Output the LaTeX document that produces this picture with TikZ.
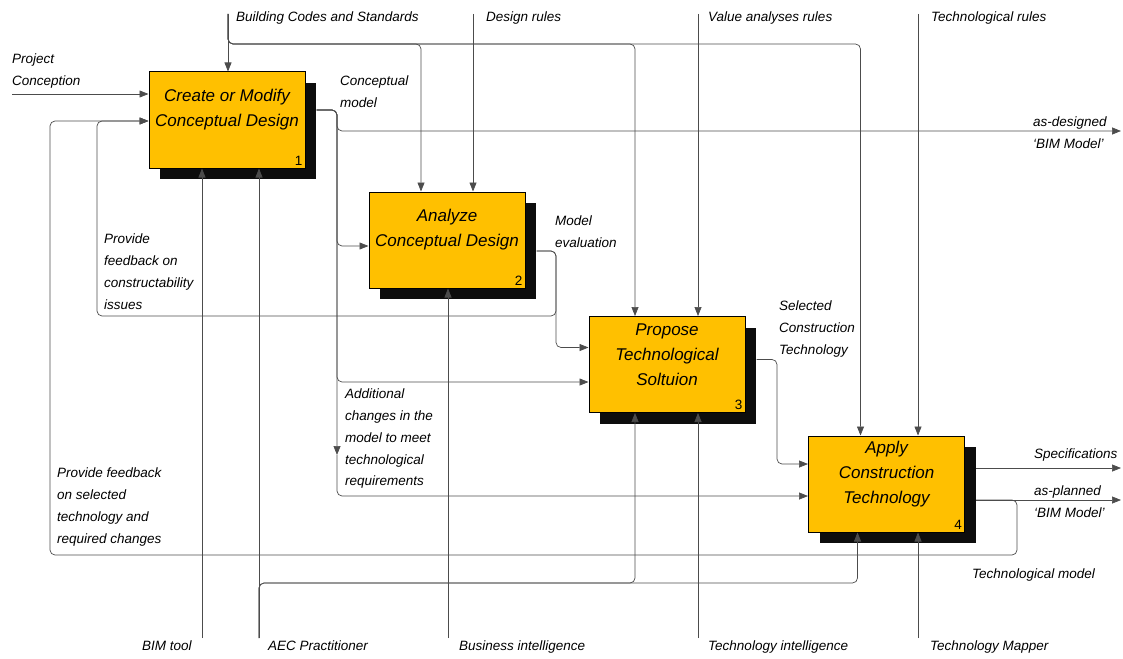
\documentclass[tikz,border=0pt]{standalone}
\usepackage{fontspec}
\setmainfont{Liberation Sans}
\usetikzlibrary{arrows.meta}
\usetikzlibrary{calc}
\usetikzlibrary{shadows}
\definecolor{idefyellow}{RGB}{255,192,0}

\begin{document}
\begin{tikzpicture}[
    x=1pt, y=-1pt,
    idef box/.style={draw=black, line width=1pt, fill=idefyellow,
      minimum width=156pt, minimum height=96pt, inner sep=0pt,
      drop shadow={shadow xshift=11pt, shadow yshift=-11pt, fill=black!95, opacity=1}},
    idef text/.style={align=center, font=\fontsize{17}{25}\selectfont\itshape},
    idef num/.style={anchor=south east, inner sep=3pt, font=\fontsize{13.5}{13.5}\selectfont},
    idef line/.style={draw=black!70, line width=0.7pt},
    idef arrow/.style={idef line, -{Triangle[length=9pt,width=7pt]}},
    bendy/.style={rounded corners=5pt},
    idef label/.style={anchor=north west, inner sep=0pt, align=left,
      font=\fontsize{13.5}{21.7}\selectfont\itshape}
    ]
    \useasboundingbox (0,0) rectangle (1123,658);

    % activities
    \node[idef box] (b1) at (227,120) {};
    \node[idef text] at ([yshift=10pt]b1.center) {Create or Modify\\Conceptual Design};
    \node[idef num] at (b1.south east) {1};
    \node[idef box] (b2) at (447,240) {};
    \node[idef text] at ([yshift=10pt]b2.center) {Analyze\\Conceptual Design};
    \node[idef num] at (b2.south east) {2};
    \node[idef box] (b3) at (667,364.5) {};
    \node[idef text] at ([yshift=10pt]b3.center) {Propose\\Technological\\Soltuion};
    \node[idef num] at (b3.south east) {3};
    \node[idef box] (b4) at (886.5,484) {};
    \node[idef text] at ([yshift=10pt]b4.center) {Apply\\Construction\\Technology};
    \node[idef num] at (b4.south east) {4};

    % end points
    \coordinate (bcs) at (228,14);
    \coordinate (dr) at (473,14);
    \coordinate (var) at (698,14);
    \coordinate (tr) at (918,14);
    \coordinate (cbus) at (0,44);
    \coordinate (pc) at (12,94);
    \coordinate (adm) at (1121,131);
    \coordinate (spec) at (1121,468);
    \coordinate (apm) at (1121,500);
    \coordinate (bim) at (202,638);
    \coordinate (aec) at (259,638);
    \coordinate (bi) at (448,638);
    \coordinate (ti) at (698,638);
    \coordinate (tm) at (918,638);
    \coordinate (mbus) at (0,583);
    \coordinate (cmx) at (337,0);
    \coordinate (cmid) at (337,455);
    \coordinate (mex) at (556,0);
    \coordinate (sctx) at (777,0);
    \coordinate (tmx) at (1017,0);
    \coordinate (fb1) at (97,316);
    \coordinate (fb2) at (50,555);

    % ports on the boxes
    \coordinate (b2c1) at ($(b2.north)+(-26,0)$);
    \coordinate (b3c1) at ($(b3.north)+(-32,0)$);
    \coordinate (b4c1) at ($(b4.north)+(-26,0)$);
    \coordinate (b1in) at ($(b1.west)+(0,1)$);
    \coordinate (b2in) at ($(b2.west)+(0,6)$);
    \coordinate (b3in1) at ($(b3.west)+(0,-17)$);
    \coordinate (b3in2) at ($(b3.west)+(0,17.5)$);
    \coordinate (b4in1) at ($(b4.west)+(0,-20)$);
    \coordinate (b4in2) at ($(b4.west)+(0,12)$);
    \coordinate (b1out) at ($(b1.east)+(11,-10)$);
    \coordinate (b2out) at ($(b2.east)+(11,11)$);
    \coordinate (b3out) at ($(b3.east)+(11,-5)$);
    \coordinate (b4out1) at ($(b4.east)+(11,-16)$);
    \coordinate (b4out2) at ($(b4.east)+(11,16)$);
    \coordinate (b3m1) at ($(b3.south)+(-32,0)$);
    \coordinate (b4m1) at ($(b4.south)+(-29,0)$);

    % controls
    \draw[idef arrow] (bcs) -- (bcs |- b1.north);
    \draw[idef arrow, bendy] (bcs) |- (b2c1 |- cbus) -- (b2c1);
    \draw[idef arrow, bendy] (bcs) |- (b3c1 |- cbus) -- (b3c1);
    \draw[idef arrow, bendy] (bcs) |- (b4c1 |- cbus) -- (b4c1);
    \draw[idef arrow] (dr) -- (dr |- b2.north);
    \draw[idef arrow] (var) -- (var |- b3.north);
    \draw[idef arrow] (tr) -- (tr |- b4.north);

    % inputs and outputs
    \draw[idef arrow] (pc) -- (pc -| b1.west);
    \draw[idef arrow, bendy] (b1out) -| (cmx |- adm) -- (adm);
    \draw[idef arrow, bendy] (b1out) -| (cmx |- b2in) -- (b2in);
    \draw[idef arrow, bendy] (b1out) -| (cmx |- b3in2) -- (b3in2);
    \draw[idef arrow, bendy] (b1out) -| (cmid);
    \draw[idef arrow, bendy] (cmid) |- (b4in2);
    \draw[idef arrow, bendy] (b2out) -| (b3in1 -| mex) -- (b3in1);
    \draw[idef arrow, bendy] (b2out) -| (fb1 -| mex) -- (fb1) |- (b1in);
    \draw[idef arrow, bendy] (b3out) -| (b4in1 -| sctx) -- (b4in1);
    \draw[idef arrow] (b4out1) -- (spec);
    \draw[idef arrow] (b4out2) -- (apm);
    \draw[idef arrow, bendy] (b4out2) -| (fb2 -| tmx) -- (fb2) |- (b1in);

    % mechanisms
    \draw[idef arrow] (bim) -- (bim |- b1.south);
    \draw[idef arrow] (aec) -- (aec |- b1.south);
    \draw[idef arrow, bendy] (aec) |- (b3m1 |- mbus) -- (b3m1);
    \draw[idef arrow, bendy] (aec) |- (b4m1 |- mbus) -- (b4m1);
    \draw[idef arrow] (bi) -- (bi |- b2.south);
    \draw[idef arrow] (ti) -- (ti |- b3.south);
    \draw[idef arrow] (tm) -- (tm |- b4.south);

    % labels
    \node[idef label] (bcsl) at (236,12) {Building Codes and Standards};
    \node[idef label] (drl) at (486,12) {Design rules};
    \node[idef label] (varl) at (708,12) {Value analyses rules};
    \node[idef label] (trl) at (931,12) {Technological rules};
    \node[idef label] (pcl) at (12,54) {Project\\Conception};
    \node[idef label] (cml) at (340,76) {Conceptual\\model};
    \node[idef label] (adml) at (1033,117) {as-designed\\‘BIM Model’};
    \node[idef label] (mel) at (555,216) {Model\\evaluation};
    \node[idef label] (fb1l) at (104,234) {Provide\\feedback on\\constructability\\issues};
    \node[idef label] (sctl) at (779,301) {Selected\\Construction\\Technology};
    \node[idef label] (acl) at (345,389) {Additional\\changes in the\\model to meet\\technological\\requirements};
    \node[idef label] (specl) at (1034,449) {Specifications};
    \node[idef label] (apml) at (1034,486) {as-planned\\‘BIM Model’};
    \node[idef label] (fb2l) at (57,468) {Provide feedback\\on selected\\technology and\\required changes};
    \node[idef label] (tmodl) at (972,569) {Technological model};
    \node[idef label] (biml) at (142,641) {BIM tool};
    \node[idef label] (aecl) at (268,641) {AEC Practitioner};
    \node[idef label] (bil) at (459,641) {Business intelligence};
    \node[idef label] (til) at (708,641) {Technology intelligence};
    \node[idef label] (tml) at (930,641) {Technology Mapper};
\end{tikzpicture}
\end{document}
